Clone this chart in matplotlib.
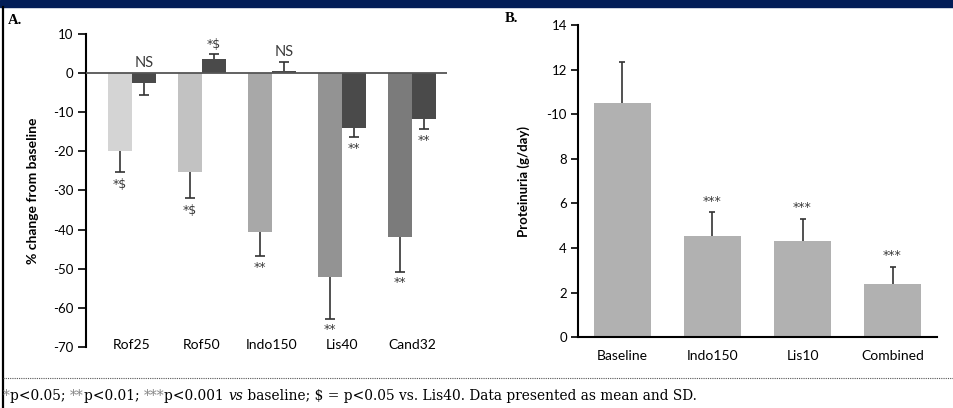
import numpy as np
import matplotlib.pyplot as plt
from matplotlib.patches import Rectangle
from matplotlib.lines import Line2D

plt.rcParams['font.family'] = ['Lato', 'DejaVu Sans']

# panel A: % change from baseline
groups = ['Rof25', 'Rof50', 'Indo150', 'Lis40', 'Cand32']
first_vals = [-19.8, -25.3, -40.7, -52.2, -42.0]
first_sd = [5.4, 6.7, 6.1, 10.6, 8.8]
second_vals = [-2.4, 3.5, 0.5, -13.9, -11.8]
second_sd = [3.2, 1.3, 2.4, 2.4, 2.6]
first_marks = ['*$', '*$', '**', '**', '**']
second_marks = ['NS', '*$', 'NS', '**', '**']
a_ticks = [10, 0, -10, -20, -30, -40, -50, -60, -70]

# panel B: proteinuria
b_cats = ['Baseline', 'Indo150', 'Lis10', 'Combined']
b_vals = [10.5, 4.55, 4.3, 2.38]
b_sd = [1.83, 1.05, 1.0, 0.77]
b_marks = ['', '***', '***', '***']
b_ticks = [0, 2, 4, 6, 8, 10, 12, 14]
b_ticklabels = ['0', '2', '4', '6', '8', '-10', '12', '14']

light_colors = ['#d4d4d4', '#c2c2c2', '#a8a8a8', '#939393', '#7b7b7b']
dark_color = '#4a4a4a'
err_color = '#333333'
star_font = ['DejaVu Sans']

fig = plt.figure(figsize=(9.54, 4.08), dpi=100)


def one_sided(ax, x, vals, sd, ms=7):
    vals = np.array(vals)
    sd = np.array(sd)
    sign = np.where(vals >= 0, 1, -1)
    ends = vals + sign * sd
    ax.vlines(x, vals, ends, color=err_color, lw=1.2, zorder=1)
    ax.plot(x, ends, ls='none', marker='_', ms=ms, mew=1.2, color=err_color)
    return ends


def mark(ax, x, y, text, up):
    if text == 'NS':
        fam, size, off = ['Lato'], 10.5, 7
    else:
        fam, size = star_font, 9
        off = 7 if up else -8
        if text == '*$' and not up:
            off = -9
    ax.annotate(text, (x, y), xytext=(0, off), textcoords='offset points',
                ha='center', va='center', fontsize=size, color='#3a3a3a',
                family=fam)


# ---- panel A ----
ax = fig.add_axes([86 / 954, 61 / 408, 361 / 954, 313 / 408])
x = np.arange(len(groups))
w = 0.343
ax.bar(x - w / 2, first_vals, w, color=light_colors, zorder=2)
ax.bar(x + w / 2, second_vals, w, color=dark_color, zorder=2)
ends1 = one_sided(ax, x - w / 2, first_vals, first_sd)
ends2 = one_sided(ax, x + w / 2, second_vals, second_sd)
ax.axhline(0, color='#555555', lw=1.3, zorder=3)

for i in range(len(groups)):
    mark(ax, x[i] - w / 2, ends1[i], first_marks[i], False)
    if second_vals[i] > 0 or second_marks[i] == 'NS':
        mark(ax, x[i] + w / 2, max(ends2[i], 0), second_marks[i], True)
    else:
        mark(ax, x[i] + w / 2, ends2[i], second_marks[i], False)

ax.set_xlim(-0.657, 4.5)
ax.set_ylim(-70, 10)
ax.set_yticks(a_ticks)
ax.set_yticklabels([str(t) for t in a_ticks], fontsize=9.5)
ax.set_xticks(x)
ax.set_xticklabels(groups, fontsize=10)
ax.tick_params(axis='x', length=0, pad=-6)
ax.tick_params(axis='y', length=6, width=1.2, pad=3)
for s in ['top', 'right', 'bottom']:
    ax.spines[s].set_visible(False)
ax.spines['left'].set_linewidth(1.5)
ax.set_ylabel('% change from baseline', fontsize=10, fontweight='bold', labelpad=10)

# ---- panel B ----
bx = fig.add_axes([578 / 954, 70.7 / 408, 359 / 954, 312.3 / 408])
xb = np.arange(len(b_cats))
bx.bar(xb, b_vals, 0.633, color='#b1b1b1', zorder=2)
endsb = one_sided(bx, xb, b_vals, b_sd, ms=5)
for i in range(len(b_cats)):
    if b_marks[i]:
        bx.annotate(b_marks[i], (xb[i], endsb[i]), xytext=(0, 8),
                    textcoords='offset points', ha='center', va='center',
                    fontsize=9, color='#3a3a3a', family=star_font)
bx.set_xlim(-0.494, 3.494)
bx.set_ylim(0, 14)
bx.set_yticks(b_ticks)
bx.set_yticklabels(b_ticklabels, fontsize=9.5)
bx.set_xticks(xb)
bx.set_xticklabels(b_cats, fontsize=10)
bx.tick_params(axis='x', length=0, pad=9)
bx.tick_params(axis='y', length=5, width=1.2, pad=3)
for s in ['top', 'right']:
    bx.spines[s].set_visible(False)
bx.spines['left'].set_linewidth(1.5)
bx.spines['bottom'].set_linewidth(1.5)
bx.set_ylabel('Proteinuria (g/day)', fontsize=9.5, fontweight='bold', labelpad=12)

# ---- frame decorations ----
fig.patches.append(Rectangle((0, 401 / 408), 1, 7 / 408, transform=fig.transFigure,
                             color='#021d57', zorder=0))
fig.lines.append(Line2D([2.5 / 954] * 2, [0, 401 / 408], transform=fig.transFigure,
                        color='black', lw=1.6))
fig.lines.append(Line2D([3 / 954, 1], [30 / 408] * 2, transform=fig.transFigure,
                        color='#555555', lw=0.8, ls=(0, (1, 1))))
fig.text(8 / 954, 388 / 408, 'A.', fontsize=10.5, fontweight='bold',
         family='Liberation Serif', va='center')
fig.text(505 / 954, 390 / 408, 'B.', fontsize=10.5, fontweight='bold',
         family='Liberation Serif', va='center')

# footnote built piece by piece
pieces = [('*', '#888888', 'normal'), ('p<0.05; ', 'black', 'normal'),
          ('**', '#888888', 'normal'), ('p<0.01; ', 'black', 'normal'),
          ('***', '#888888', 'normal'), ('p<0.001 ', 'black', 'normal'),
          ('vs', 'black', 'italic'),
          (' baseline; $ = p<0.05 vs. Lis40. Data presented as mean and SD.', 'black', 'normal')]
foot = dict(fontsize=9.9, family='DejaVu Serif', va='center')
last = fig.text(3 / 954, 12 / 408, pieces[0][0], color=pieces[0][1], **foot)
for txt, col, sty in pieces[1:]:
    last = ax.annotate(txt, xy=(1, 0.5), xycoords=last, ha='left', color=col,
                       style=sty, annotation_clip=False, **foot)

fig.savefig('out.png', dpi=100)
